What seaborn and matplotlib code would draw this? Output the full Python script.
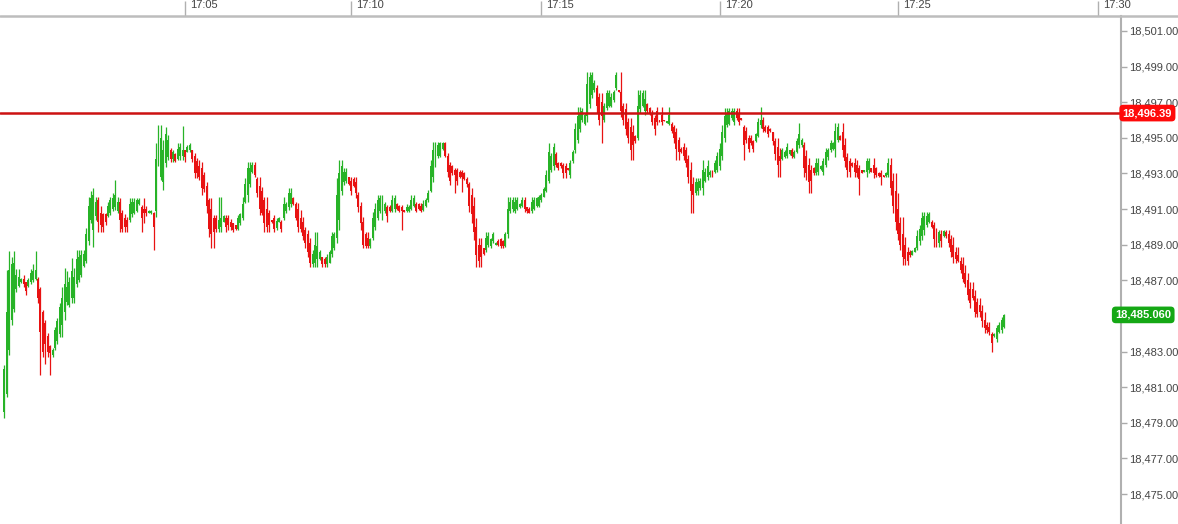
import numpy as np
import pandas as pd
import matplotlib
matplotlib.use("Agg")
import matplotlib.pyplot as plt
import seaborn as sns
from matplotlib.lines import Line2D


# 5-second OHLC bars
opens = [
    18479.6, 18480.6, 18483.1, 18484.8, 18485.4, 18486.5, 18486.7, 18486.9, 18487.1, 18486.9,
    18486.7, 18486.9, 18487.0, 18487.1, 18487.1, 18486.5, 18485.2, 18484.6, 18483.9, 18483.3,
    18482.8, 18483.2, 18483.6, 18484.0, 18484.5, 18485.2, 18485.8, 18485.6, 18486.0, 18486.0,
    18486.8, 18487.0, 18487.3, 18487.8, 18488.1, 18489.2, 18490.4, 18489.8, 18490.6, 18491.5,
    18490.8, 18490.7, 18490.7, 18490.6, 18490.8, 18491.0, 18491.1, 18490.9, 18491.4, 18490.8,
    18490.5, 18490.4, 18490.4, 18490.7, 18490.8, 18490.9, 18491.3, 18491.1, 18491.0, 18491.0,
    18490.8, 18490.8, 18490.8, 18490.9, 18493.6, 18492.8, 18492.5,
    18493.6, 18493.9, 18494.3, 18493.8, 18494.1, 18493.8, 18494.0,
    18494.0, 18494.3, 18494.2, 18494.3, 18494.3, 18494.0, 18493.7, 18493.4, 18493.3, 18492.9,
    18492.3, 18491.5, 18491.0, 18490.5, 18490.5, 18489.9, 18490.0, 18490.3, 18490.5, 18490.5, 18490.3,
    18490.2, 18490.1, 18489.9, 18490.2, 18490.5, 18491.4, 18491.8, 18492.4, 18493.1, 18493.5,
    18492.7, 18492.3, 18492.0, 18491.5, 18491.0, 18490.8, 18490.38, 18490.5, 18489.95, 18490.3, 18490.3,
    18490.5, 18490.9, 18491.1, 18491.3, 18491.6, 18491.3, 18491.0, 18490.5, 18490.3, 18489.8,
    18489.6, 18489.1, 18487.9, 18488.0, 18488.2, 18488.2, 18488.3, 18488.2, 18487.9, 18488.0, 18488.5,
    18488.8, 18489.4, 18490.4, 18492.0, 18492.5, 18492.6, 18492.8, 18492.6, 18492.7, 18492.5,
    18491.8, 18491.2, 18490.3, 18489.6, 18489.4, 18488.9, 18489.4, 18490.0, 18490.5, 18490.9,
    18490.6, 18490.9, 18491.1, 18491.1, 18490.9, 18491.0, 18491.3, 18491.2, 18491.1, 18490.95, 18490.9,
    18490.9, 18491.0, 18491.2, 18491.3, 18491.3, 18491.2, 18490.95, 18491.2, 18491.5, 18492.0, 18492.8,
    18493.5, 18494.0, 18494.0, 18494.4, 18494.7, 18494.0, 18493.5, 18493.4, 18493.2, 18493.2,
    18493.1, 18493.1, 18493.0, 18492.7, 18492.4, 18491.8, 18491.2, 18490.0, 18489.0, 18489.0,
    18488.8, 18488.7, 18489.0, 18488.9, 18489.2, 18489.0, 18489.2, 18489.3, 18489.2, 18488.9, 18489.6,
    18490.9, 18491.0, 18490.9, 18491.0, 18491.1, 18491.2, 18491.5, 18491.1, 18491.0, 18490.9,
    18491.0, 18491.2, 18491.2, 18491.5, 18491.7, 18492.0, 18492.6, 18493.2, 18493.4, 18494.1,
    18493.6, 18493.6, 18493.5, 18493.4, 18493.3, 18492.9, 18493.7, 18494.3, 18494.9, 18495.5,
    18496.0, 18495.8, 18496.2, 18496.9, 18497.4, 18497.7, 18497.8, 18497.3, 18497.0, 18496.0,
    18496.7, 18496.8, 18496.8, 18497.1, 18497.8, 18497.68, 18497.6, 18496.8, 18496.6, 18495.9,
    18495.6, 18495.3, 18495.1, 18495.0, 18496.6, 18496.8, 18496.5, 18496.9, 18496.7, 18496.4,
    18496.1, 18496.5, 18496.0, 18496.3, 18496.0, 18495.85, 18495.8, 18495.8, 18495.6, 18495.3,
    18494.9, 18494.4, 18494.5, 18494.3, 18493.8, 18493.2, 18492.4, 18491.9, 18492.0, 18492.2,
    18492.2, 18492.6, 18492.8, 18492.9, 18493.1, 18493.1, 18493.2, 18493.4, 18494.0, 18495.0,
    18495.7, 18495.8, 18496.1, 18495.9, 18496.5, 18496.4, 18496.1, 18495.6, 18495.4, 18495.0,
    18495.0, 18494.8, 18494.8, 18495.1, 18495.7, 18496.0, 18495.6, 18495.6, 18495.5, 18495.3,
    18494.8, 18494.5, 18494.0, 18493.8, 18493.9, 18494.0, 18494.1, 18494.3, 18493.9, 18494.2,
    18494.6, 18494.6, 18494.6, 18494.0, 18493.5, 18493.2, 18493.3, 18493.0, 18493.1, 18493.25,
    18493.1, 18493.5, 18493.9, 18494.3, 18494.4, 18494.4, 18494.9, 18495.1, 18495.3, 18494.6,
    18493.9, 18493.7, 18493.6, 18493.6, 18493.5, 18493.3, 18493.18, 18493.1, 18493.1, 18493.2,
    18493.3, 18493.5, 18493.3, 18493.0, 18493.0, 18492.9, 18492.85, 18492.9, 18493.5, 18492.6,
    18492.0, 18491.0, 18490.2, 18489.6, 18489.0, 18488.6, 18488.6, 18488.45, 18488.6,
    18488.8, 18489.2, 18489.5, 18489.8, 18490.1, 18490.3, 18490.3, 18490.1, 18489.7, 18489.1,
    18489.6, 18489.5, 18489.7, 18489.6, 18489.3, 18489.0, 18488.6, 18488.4, 18488.1,
    18487.9, 18487.4, 18487.0, 18486.5, 18486.5, 18486.1, 18485.8, 18485.6, 18485.3,
    18484.8, 18484.5, 18484.4, 18484.0, 18483.85, 18483.7, 18484.1, 18484.2, 18484.4,
]
highs = [
    18482.25, 18487.58, 18488.65, 18488.30, 18488.65, 18487.64, 18487.64, 18487.13, 18487.30, 18486.91,
    18487.13, 18487.64, 18487.90, 18488.65, 18487.19, 18486.63, 18485.33, 18484.80, 18484.04, 18483.37,
    18483.20, 18484.38, 18484.90, 18485.73, 18486.63, 18487.69, 18487.50, 18487.19, 18488.25, 18487.69,
    18488.70, 18488.70, 18488.70, 18488.70, 18489.94, 18491.68, 18492.00, 18492.18, 18491.68, 18491.68,
    18491.20, 18490.78, 18490.78, 18491.40, 18491.68, 18491.90, 18492.63, 18491.68, 18491.62, 18490.95,
    18490.70, 18490.56, 18491.62, 18491.62, 18491.60, 18491.62, 18491.62, 18491.23, 18491.62, 18491.20,
    18490.95, 18490.95, 18490.84, 18494.71, 18495.70, 18495.72, 18494.88,
    18495.61, 18495.16, 18494.43, 18494.32, 18494.15, 18494.71, 18494.71,
    18495.67, 18494.32, 18494.60, 18494.71, 18494.32, 18494.15, 18493.87, 18493.76, 18493.64, 18493.08,
    18492.52, 18491.62, 18491.62, 18490.67, 18490.67, 18491.68, 18491.68, 18490.67, 18490.67, 18490.67, 18490.45,
    18490.22, 18490.11, 18490.67, 18490.78, 18491.68, 18492.75, 18493.64, 18493.64, 18493.64, 18493.64,
    18492.80, 18492.80, 18492.24, 18491.68, 18491.68, 18490.95, 18490.39, 18490.67, 18490.50, 18490.56, 18490.39,
    18491.68, 18491.40, 18492.18, 18492.18, 18491.68, 18491.40, 18491.34, 18490.95, 18490.56, 18490.00,
    18489.83, 18489.38, 18488.70, 18489.71, 18489.71, 18488.70, 18488.31, 18488.31, 18488.50, 18488.70, 18489.71,
    18489.71, 18492.75, 18493.76, 18493.76, 18493.31, 18493.31, 18492.80, 18492.80, 18492.80, 18492.80,
    18491.96, 18491.40, 18490.56, 18489.71, 18489.71, 18489.38, 18490.84, 18491.34, 18491.79, 18491.79,
    18491.79, 18491.40, 18491.23, 18491.23, 18491.79, 18491.79, 18491.34, 18491.23, 18491.23, 18490.95, 18491.30,
    18491.23, 18491.79, 18491.79, 18491.40, 18491.34, 18491.34, 18491.50, 18491.62, 18492.07, 18493.76, 18494.77,
    18494.77, 18494.77, 18494.77, 18494.77, 18494.77, 18494.15, 18493.64, 18493.48, 18493.31, 18493.31,
    18493.20, 18493.20, 18493.08, 18492.80, 18492.52, 18492.18, 18491.68, 18490.50, 18489.38, 18489.38,
    18488.82, 18489.71, 18489.71, 18489.38, 18489.71, 18489.15, 18489.30, 18489.38, 18489.27, 18489.71, 18491.68,
    18491.68, 18491.68, 18491.68, 18491.68, 18491.34, 18491.68, 18491.68, 18491.12, 18491.12, 18491.68,
    18491.68, 18491.68, 18491.79, 18491.90, 18492.24, 18493.20, 18494.71, 18494.15, 18494.71, 18494.21,
    18493.64, 18493.64, 18493.59, 18493.59, 18493.31, 18493.76, 18494.32, 18495.83, 18496.73, 18496.73,
    18496.68, 18496.40, 18498.70, 18498.70, 18498.70, 18498.25, 18497.97, 18497.52, 18497.52, 18496.96,
    18497.69, 18497.69, 18497.52, 18497.69, 18498.70, 18497.69, 18498.70, 18496.96, 18496.96, 18496.12,
    18496.12, 18495.72, 18495.16, 18497.69, 18497.69, 18497.69, 18497.69, 18496.96, 18496.73, 18496.56,
    18496.28, 18496.73, 18496.00, 18496.73, 18496.00, 18495.94, 18496.73, 18495.89, 18495.72, 18495.55,
    18495.05, 18494.49, 18494.71, 18494.49, 18494.04, 18493.64, 18492.80, 18492.75, 18492.75, 18492.75,
    18493.76, 18493.31, 18493.76, 18493.20, 18493.20, 18493.76, 18494.21, 18494.71, 18495.72, 18496.68,
    18496.68, 18496.68, 18496.68, 18496.68, 18496.68, 18496.68, 18496.12, 18495.72, 18495.61, 18495.16,
    18495.16, 18494.88, 18495.27, 18496.12, 18496.73, 18496.17, 18495.72, 18495.72, 18495.55, 18495.33,
    18494.99, 18494.99, 18494.43, 18494.43, 18494.32, 18494.71, 18494.32, 18494.43, 18494.32, 18494.99,
    18495.83, 18494.99, 18494.77, 18494.32, 18493.87, 18493.48, 18493.36, 18493.87, 18493.87, 18493.48,
    18493.87, 18494.43, 18494.43, 18494.88, 18494.77, 18495.83, 18495.83, 18495.16, 18495.83, 18494.99,
    18494.15, 18493.87, 18493.64, 18493.87, 18493.76, 18493.48, 18493.20, 18493.20, 18493.87, 18493.87,
    18493.31, 18493.87, 18493.36, 18493.08, 18493.20, 18492.91, 18493.08, 18493.87, 18493.87, 18493.03,
    18493.03, 18491.90, 18490.56, 18490.56, 18489.43, 18488.87, 18488.70, 18488.70, 18488.87,
    18489.83, 18490.11, 18490.84, 18490.84, 18490.84, 18490.84, 18490.39, 18490.28, 18489.94, 18489.83,
    18489.83, 18489.83, 18489.83, 18489.83, 18489.55, 18489.43, 18488.87, 18488.87, 18488.31,
    18488.31, 18487.86, 18487.41, 18486.91, 18486.91, 18486.46, 18486.01, 18486.01, 18485.62,
    18485.22, 18484.66, 18484.66, 18484.10, 18484.04, 18484.49, 18484.66, 18484.94, 18485.10,
]
lows = [
    18479.27, 18480.45, 18482.81, 18484.50, 18485.22, 18486.35, 18486.63, 18486.85, 18486.60, 18486.18,
    18486.63, 18486.80, 18486.90, 18487.02, 18485.73, 18481.69, 18482.70, 18482.30, 18482.70, 18481.69,
    18482.70, 18483.09, 18483.40, 18483.82, 18483.82, 18484.77, 18485.60, 18485.50, 18485.73, 18485.73,
    18486.63, 18486.90, 18487.19, 18487.75, 18487.97, 18488.98, 18490.20, 18488.87, 18490.39, 18489.71,
    18489.70, 18489.71, 18490.11, 18490.56, 18490.67, 18490.90, 18490.95, 18490.78, 18489.71, 18489.71,
    18489.70, 18489.71, 18490.28, 18490.56, 18490.70, 18490.84, 18491.23, 18489.71, 18490.22, 18490.60,
    18490.78, 18490.72, 18488.70, 18490.56, 18493.40, 18492.63, 18492.07,
    18493.36, 18493.76, 18493.64, 18493.64, 18493.64, 18493.76, 18493.76,
    18493.76, 18493.64, 18494.21, 18494.21, 18493.64, 18492.75, 18492.75, 18492.63, 18491.79, 18491.96,
    18490.78, 18489.43, 18488.82, 18488.82, 18489.71, 18489.71, 18489.71, 18490.28, 18489.71, 18489.83, 18489.80,
    18489.71, 18489.83, 18489.83, 18490.11, 18490.39, 18491.34, 18491.40, 18492.24, 18493.03, 18492.80,
    18491.68, 18490.67, 18490.67, 18489.71, 18489.71, 18489.71, 18490.22, 18489.71, 18489.80, 18490.28, 18489.71,
    18490.39, 18490.78, 18490.95, 18491.12, 18491.23, 18490.39, 18489.71, 18489.71, 18489.27, 18488.82,
    18488.31, 18487.75, 18487.75, 18487.75, 18487.75, 18488.14, 18487.75, 18487.75, 18487.75, 18487.97, 18488.31,
    18488.70, 18489.10, 18489.83, 18491.79, 18492.35, 18492.47, 18492.35, 18491.79, 18492.24, 18491.62,
    18490.84, 18489.83, 18488.82, 18488.82, 18488.82, 18488.82, 18489.27, 18489.83, 18490.39, 18490.78,
    18490.39, 18490.78, 18490.28, 18490.84, 18490.84, 18490.84, 18490.95, 18490.84, 18489.83, 18490.84, 18490.85,
    18490.84, 18490.95, 18491.12, 18490.84, 18490.95, 18490.84, 18490.90, 18491.12, 18491.40, 18491.96, 18492.52,
    18493.36, 18493.87, 18493.93, 18494.32, 18493.93, 18492.80, 18492.35, 18492.91, 18491.90, 18492.35,
    18492.75, 18491.96, 18492.63, 18492.24, 18490.84, 18490.22, 18489.27, 18487.75, 18487.75, 18487.75,
    18488.42, 18488.59, 18488.87, 18488.82, 18489.10, 18488.98, 18488.90, 18488.82, 18488.82, 18488.87, 18489.38,
    18490.78, 18490.84, 18490.78, 18490.95, 18491.06, 18491.12, 18490.84, 18490.78, 18490.78, 18490.78,
    18490.95, 18491.12, 18491.12, 18491.40, 18491.68, 18491.96, 18492.47, 18493.08, 18493.20, 18493.36,
    18493.20, 18493.31, 18492.75, 18492.75, 18493.20, 18492.75, 18493.59, 18494.15, 18494.71, 18495.33,
    18495.89, 18495.72, 18495.89, 18496.68, 18497.24, 18497.58, 18496.40, 18495.72, 18494.71, 18495.89,
    18496.56, 18496.73, 18496.73, 18497.01, 18497.69, 18497.58, 18496.17, 18495.72, 18495.16, 18494.71,
    18493.76, 18493.76, 18494.71, 18494.88, 18496.40, 18496.73, 18496.28, 18496.40, 18496.28, 18495.72,
    18495.16, 18495.72, 18495.89, 18495.72, 18495.94, 18495.83, 18495.72, 18495.27, 18494.71, 18493.76,
    18493.76, 18494.15, 18493.76, 18493.36, 18492.47, 18490.78, 18490.78, 18491.79, 18491.79, 18492.07,
    18491.79, 18492.52, 18492.63, 18492.80, 18492.80, 18493.03, 18493.08, 18493.20, 18493.76, 18494.77,
    18495.61, 18495.72, 18496.00, 18495.72, 18496.00, 18495.72, 18496.00, 18493.76, 18494.71, 18494.21,
    18494.60, 18494.21, 18494.77, 18495.05, 18495.55, 18495.33, 18495.33, 18495.05, 18495.33, 18494.60,
    18493.76, 18492.80, 18492.80, 18493.76, 18493.87, 18493.87, 18494.04, 18493.87, 18493.87, 18494.15,
    18494.43, 18494.49, 18492.80, 18492.63, 18491.90, 18491.90, 18492.91, 18492.91, 18492.91, 18493.20,
    18492.91, 18493.36, 18493.76, 18494.21, 18494.32, 18493.93, 18494.77, 18494.88, 18493.93, 18493.36,
    18492.80, 18492.80, 18493.36, 18492.80, 18492.80, 18491.79, 18493.03, 18493.08, 18492.80, 18493.03,
    18493.08, 18492.75, 18492.80, 18492.80, 18492.35, 18492.80, 18492.80, 18492.80, 18491.79, 18490.78,
    18489.83, 18489.27, 18488.70, 18487.86, 18487.86, 18487.86, 18488.31, 18488.42, 18488.59,
    18488.70, 18488.98, 18489.27, 18489.55, 18490.00, 18490.22, 18489.94, 18488.87, 18488.87, 18488.87,
    18488.87, 18489.43, 18489.38, 18488.87, 18488.31, 18487.97, 18487.97, 18488.03, 18487.41,
    18486.91, 18486.63, 18485.90, 18485.45, 18485.90, 18484.94, 18484.94, 18484.94, 18484.38,
    18484.04, 18484.04, 18483.93, 18482.98, 18483.82, 18483.54, 18484.04, 18484.04, 18484.32,
]
closes = [
    18482.0, 18485.2, 18487.6, 18487.9, 18488.0, 18487.3, 18487.2, 18487.1, 18486.8, 18486.4,
    18487.0, 18487.4, 18487.5, 18487.6, 18486.0, 18484.1, 18483.0, 18483.4, 18483.0, 18482.9,
    18483.1, 18484.2, 18484.7, 18485.5, 18486.0, 18486.8, 18486.6, 18486.9, 18487.5, 18487.2,
    18488.2, 18488.3, 18488.4, 18488.5, 18489.6, 18491.2, 18491.6, 18491.8, 18491.4, 18490.3,
    18490.1, 18490.0, 18490.3, 18491.2, 18491.5, 18491.6, 18491.8, 18491.4, 18490.4, 18489.9,
    18490.0, 18490.0, 18491.3, 18491.4, 18491.4, 18491.5, 18491.5, 18490.5, 18490.8, 18490.8,
    18490.9, 18490.9, 18490.0, 18493.8, 18495.3, 18495.0, 18494.3,
    18495.2, 18494.9, 18493.8, 18494.2, 18493.7, 18494.4, 18494.5,
    18494.3, 18493.9, 18494.5, 18494.6, 18493.8, 18493.0, 18493.0, 18492.8, 18492.2, 18492.1,
    18491.2, 18489.9, 18489.6, 18489.7, 18489.9, 18490.4, 18490.5, 18490.6, 18490.0, 18490.1, 18490.0,
    18489.8, 18489.9, 18490.5, 18490.7, 18491.3, 18492.4, 18493.3, 18493.3, 18493.5, 18492.9,
    18491.9, 18491.0, 18490.8, 18490.2, 18490.0, 18490.1, 18490.25, 18489.9, 18490.35, 18490.5, 18489.9,
    18491.3, 18491.3, 18491.9, 18491.9, 18491.3, 18490.5, 18490.0, 18489.9, 18489.5, 18489.1,
    18488.6, 18488.0, 18488.5, 18489.0, 18488.9, 18488.6, 18487.9, 18487.9, 18488.3, 18488.6, 18489.5,
    18489.6, 18491.8, 18493.0, 18493.4, 18493.1, 18493.1, 18492.4, 18492.0, 18492.3, 18491.9,
    18491.1, 18490.2, 18489.0, 18488.9, 18488.9, 18489.3, 18490.5, 18491.0, 18491.5, 18491.6,
    18491.3, 18491.3, 18490.6, 18490.9, 18491.5, 18491.6, 18491.0, 18490.9, 18490.9, 18490.85, 18491.1,
    18491.1, 18491.5, 18491.6, 18490.9, 18491.0, 18490.9, 18491.3, 18491.5, 18491.9, 18493.4, 18494.3,
    18494.5, 18494.6, 18494.7, 18494.7, 18494.0, 18493.1, 18492.6, 18493.0, 18492.9, 18492.6,
    18492.8, 18492.8, 18492.7, 18492.4, 18491.2, 18490.7, 18489.7, 18488.4, 18488.1, 18488.3,
    18488.5, 18489.4, 18489.5, 18489.3, 18489.6, 18489.1, 18489.0, 18488.9, 18488.9, 18489.6, 18491.0,
    18491.4, 18491.5, 18491.4, 18491.5, 18491.3, 18491.5, 18491.0, 18490.9, 18490.8, 18491.4,
    18491.5, 18491.6, 18491.7, 18491.8, 18492.1, 18492.9, 18494.2, 18494.0, 18494.5, 18493.5,
    18493.3, 18493.4, 18493.0, 18493.0, 18493.2, 18493.6, 18494.2, 18495.5, 18496.2, 18496.4,
    18496.5, 18496.3, 18498.0, 18498.4, 18498.5, 18498.1, 18496.8, 18496.0, 18496.2, 18496.8,
    18497.5, 18497.5, 18497.3, 18497.6, 18498.5, 18497.6, 18496.5, 18496.0, 18495.5, 18495.0,
    18494.3, 18494.6, 18494.8, 18496.8, 18497.4, 18497.5, 18497.2, 18496.5, 18496.4, 18495.9,
    18495.5, 18495.9, 18495.9, 18495.9, 18495.95, 18495.92, 18496.3, 18495.4, 18495.0, 18494.4,
    18494.2, 18494.2, 18494.0, 18493.6, 18492.8, 18492.0, 18491.8, 18492.5, 18492.5, 18492.6,
    18493.2, 18493.1, 18493.4, 18493.1, 18492.9, 18493.6, 18494.0, 18494.4, 18495.3, 18496.2,
    18496.4, 18496.5, 18496.5, 18496.5, 18496.1, 18495.9, 18496.0, 18494.6, 18494.9, 18494.4,
    18494.7, 18494.4, 18495.2, 18495.9, 18496.0, 18495.5, 18495.4, 18495.2, 18495.4, 18494.8,
    18494.1, 18493.5, 18493.7, 18494.3, 18494.2, 18494.5, 18494.3, 18494.0, 18494.2, 18494.8,
    18495.2, 18494.9, 18493.3, 18493.0, 18492.5, 18492.6, 18493.0, 18493.6, 18493.6, 18493.4,
    18493.7, 18494.2, 18494.3, 18494.7, 18494.7, 18495.4, 18495.6, 18494.9, 18494.3, 18493.7,
    18493.2, 18493.1, 18493.4, 18493.1, 18493.0, 18492.7, 18493.05, 18493.18, 18493.7, 18493.7,
    18493.1, 18493.0, 18492.9, 18492.85, 18492.8, 18492.82, 18493.0, 18493.6, 18492.2, 18491.2,
    18490.3, 18489.6, 18489.0, 18488.3, 18488.2, 18488.1, 18488.4, 18488.65, 18488.8,
    18489.5, 18489.9, 18490.5, 18490.6, 18490.6, 18490.7, 18490.0, 18489.3, 18489.1, 18489.7,
    18489.2, 18489.75, 18489.5, 18489.1, 18488.6, 18488.3, 18488.2, 18488.1, 18487.6,
    18487.1, 18486.8, 18486.2, 18485.7, 18486.0, 18485.2, 18485.1, 18485.2, 18484.7,
    18484.3, 18484.2, 18484.1, 18483.5, 18484.0, 18484.3, 18484.5, 18484.8, 18485.06,
]

time_labels = ["17:05", "17:10", "17:15", "17:20", "17:25", "17:30"]
time_bars = [75, 144, 223, 297, 371, 454]
ref_price = 18496.39
last_price = 18485.06
price_ticks = list(range(18475, 18502, 2))

df = pd.DataFrame({"open": opens, "high": highs, "low": lows, "close": closes})
df["bar"] = np.arange(len(df))
df["dir"] = np.where(df["close"] >= df["open"], "up", "down")

sns.set_theme(style="white")
plt.rcParams["font.family"] = ["Liberation Sans", "DejaVu Sans"]

W, H = 1178, 524
fig = plt.figure(figsize=(W / 100, H / 100), dpi=100)
ax = fig.add_axes([0, 0, 1121 / W, 1 - 16 / H])

palette = {"up": "#27b327", "down": "#e81212"}
colors = df["dir"].map(palette)

# wicks and bodies
ax.vlines(df["bar"], df["low"], df["high"], colors=colors, linewidth=0.9)
body = (df["close"] - df["open"]).abs().clip(lower=0.05)
ax.bar(df["bar"], body, bottom=df[["open", "close"]].min(axis=1),
       width=0.82, color=colors, linewidth=0)

ax.axhline(ref_price, color="#cc1111", linewidth=1.8, zorder=5)

ax.set_xlim(-1.8, 463.6)
ax.set_ylim(18473.32, 18501.84)

# right price axis (the 18,485 label sits under the last-price badge)
ax.yaxis.tick_right()
ax.set_yticks(price_ticks)
ax.set_yticklabels(["" if p == 18485 else f"{p:,.2f}" for p in price_ticks])
ax.tick_params(axis="y", direction="out", length=4, width=1, color="#aaaaaa",
               labelsize=8, labelcolor="#444444", pad=2)

# top time axis
ax.xaxis.tick_top()
ax.set_xticks(time_bars)
ax.set_xticklabels([])
ax.tick_params(axis="x", direction="out", length=11, width=1, color="#b0b0b0")
for b, lab in zip(time_bars, time_labels):
    ax.annotate(lab, xy=(b, 1), xycoords=("data", "axes fraction"),
                xytext=(3.6, 8.0), textcoords="offset points",
                ha="left", va="center", fontsize=8, color="#444444")

for s in ["left", "bottom", "top"]:
    ax.spines[s].set_visible(False)
ax.spines["right"].set_color("#b0b0b0")
ax.spines["right"].set_linewidth(1.5)
fig.add_artist(Line2D([0, 1], [1 - 16 / H, 1 - 16 / H], color="#bdbdbd",
                      linewidth=1.8, transform=fig.transFigure))

# price badges
ax.annotate(f"{ref_price:,.2f}", xy=(1, ref_price), xycoords=("axes fraction", "data"),
            xytext=(19.0, 0), textcoords="offset points", ha="center", va="center",
            fontsize=8, fontweight="bold", color="white", zorder=10,
            bbox=dict(boxstyle="round,pad=0.3,rounding_size=0.35", fc="#ff0a0a", ec="none"))
ax.annotate(f"{last_price:,.3f}", xy=(1, last_price), xycoords=("axes fraction", "data"),
            xytext=(16.0, 0), textcoords="offset points", ha="center", va="center",
            fontsize=8, fontweight="bold", color="white", zorder=10,
            bbox=dict(boxstyle="round,pad=0.3,rounding_size=0.35", fc="#15a815", ec="none"))

fig.savefig("out.png", dpi=100, facecolor="white")
